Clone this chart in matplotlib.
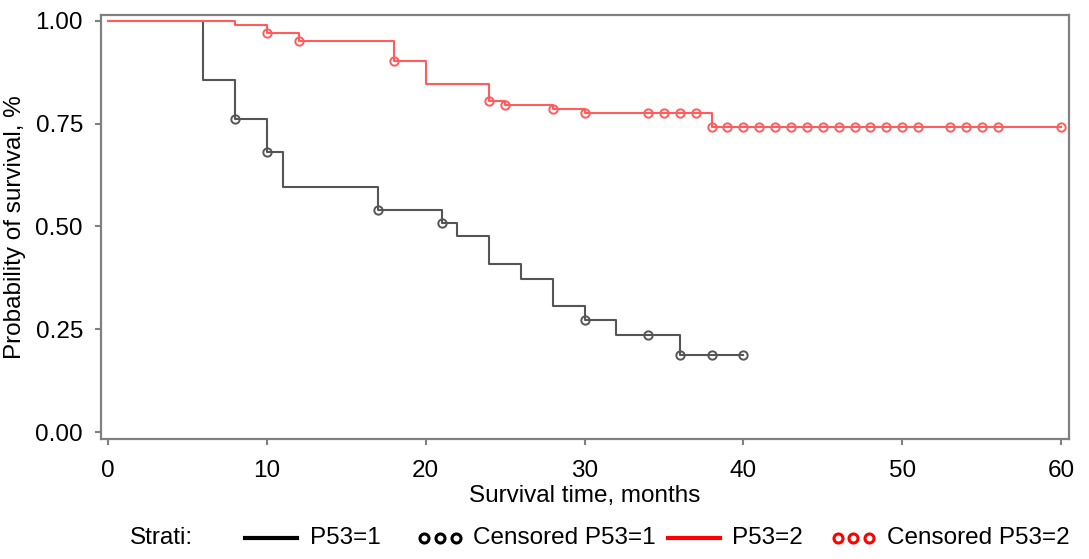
import matplotlib
matplotlib.use("Agg")
import matplotlib.pyplot as plt
from matplotlib.lines import Line2D

plt.rcParams['font.family'] = ['Liberation Sans', 'DejaVu Sans']

# P53=1 (black): step times and survival levels after each step
t1 = [0, 6, 8, 10, 11, 17, 21, 22, 24, 26, 28, 30, 32, 36, 40]
s1 = [1.0, 0.857, 0.762, 0.680, 0.595, 0.540, 0.508, 0.476, 0.408, 0.372, 0.306, 0.272, 0.235, 0.187, 0.187]
cens1_t = [8, 10, 17, 21, 30, 34, 36, 38, 40]

# P53=2 (red)
t2 = [0, 8, 10, 12, 18, 20, 24, 25, 28, 30, 38, 60]
s2 = [1.0, 0.990, 0.971, 0.951, 0.902, 0.846, 0.806, 0.796, 0.786, 0.776, 0.741, 0.741]
cens2_t = [10, 12, 18, 24, 25, 28, 30, 34, 35, 36, 37,
           38, 39, 40, 41, 42, 43, 44, 45, 46, 47, 48, 49, 50, 51,
           53, 54, 55, 56, 60]

BLACK = '#555555'
RED = '#ff5c5c'
FS = 17.5
W, H = 1089, 559


def level_at(times, levels, t):
    val = levels[0]
    for ti, si in zip(times, levels):
        if ti <= t:
            val = si
    return val


fig = plt.figure(figsize=(W / 100, H / 100), dpi=100)
ax = fig.add_axes([101 / W, 1 - 439 / H, (1069 - 101) / W, (439 - 15) / H])

ax.step(t1, s1, where='post', color=BLACK, lw=1.5)
ax.step(t2, s2, where='post', color=RED, lw=1.5)
ax.plot(cens1_t, [level_at(t1, s1, t) for t in cens1_t], 'o', ms=6,
        mfc='none', mec=BLACK, mew=1.4, ls='none')
ax.plot(cens2_t, [level_at(t2, s2, t) for t in cens2_t], 'o', ms=6,
        mfc='none', mec=RED, mew=1.4, ls='none')

ax.set_xlim(-0.44, 60.5)
ax.set_ylim(-0.017, 1.0145)
ax.set_xticks([0, 10, 20, 30, 40, 50, 60])
ax.set_yticks([0, 0.25, 0.5, 0.75, 1.0])
ax.set_yticklabels(['0.00', '0.25', '0.50', '0.75', '1.00'])
ax.tick_params(labelsize=FS, color='#808080', length=4, width=1.5)
ax.tick_params(axis='x', pad=11)
ax.tick_params(axis='y', pad=9)
for sp in ax.spines.values():
    sp.set_color('#808080')
    sp.set_linewidth(1.6)
ax.set_xlabel('Survival time, months', fontsize=FS, labelpad=2)
ax.set_ylabel('Probability of survival, %', fontsize=FS, labelpad=7)

# legend row along the bottom, laid out like the original
ly = 1 - 538 / H


def fx(px):
    return px / W


fig.text(fx(130), ly, 'Strati:', fontsize=FS, va='center', ha='left')
fig.add_artist(Line2D([fx(245), fx(297)], [ly, ly], color='black', lw=3,
                      transform=fig.transFigure))
fig.text(fx(310), ly, 'P53=1', fontsize=FS, va='center', ha='left')
fig.add_artist(Line2D([fx(424), fx(440), fx(456)], [ly] * 3, ls='none', marker='o',
                      ms=6.5, mfc='none', mec='black', mew=2.2,
                      transform=fig.transFigure))
fig.text(fx(473), ly, 'Censored P53=1', fontsize=FS, va='center', ha='left')
fig.add_artist(Line2D([fx(668), fx(720)], [ly, ly], color='red', lw=3,
                      transform=fig.transFigure))
fig.text(fx(732), ly, 'P53=2', fontsize=FS, va='center', ha='left')
fig.add_artist(Line2D([fx(838), fx(853), fx(869)], [ly] * 3, ls='none', marker='o',
                      ms=6.5, mfc='none', mec='red', mew=2.2,
                      transform=fig.transFigure))
fig.text(fx(887), ly, 'Censored P53=2', fontsize=FS, va='center', ha='left')

fig.savefig('out.png', dpi=100)
